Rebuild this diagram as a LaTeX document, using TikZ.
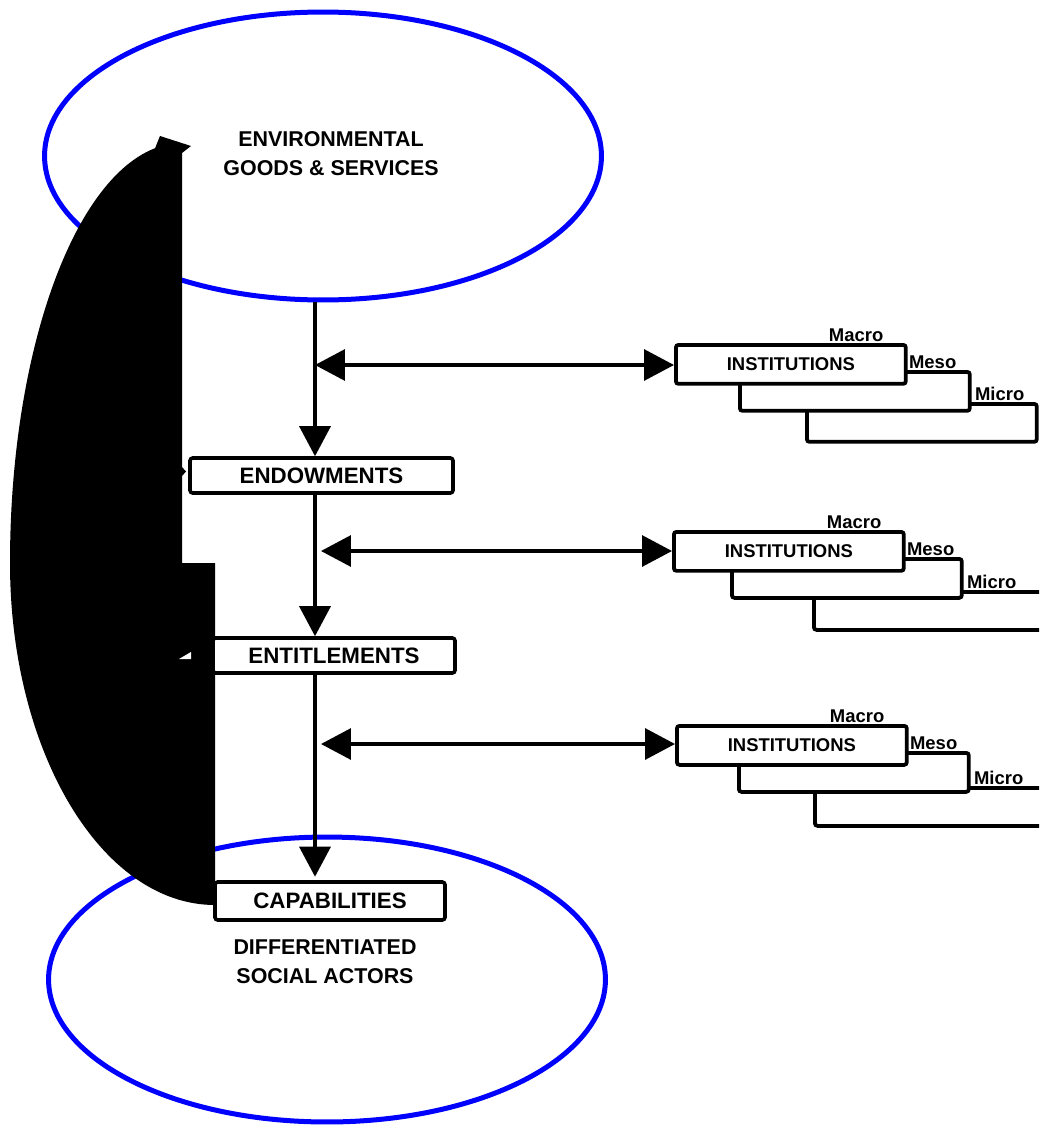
\documentclass[tikz,border=0pt]{standalone}
\usepackage{fontspec}
\setmainfont{Liberation Sans}
\usetikzlibrary{shapes.geometric, arrows.meta, positioning, calc}

\begin{document}
\begin{tikzpicture}[
    x=0.02cm, y=-0.02cm,
    goal/.style={draw=blue, line width=0.1cm, ellipse, inner sep=0pt, minimum width=11.14cm, minimum height=5.76cm, font=\fontsize{12.2}{16.5}\selectfont\bfseries, align=center},
    stage/.style={draw, fill=white, line width=0.072cm, rounded corners=1.5pt, inner sep=0pt, minimum height=0.7cm, font=\fontsize{12.7}{14}\selectfont\bfseries},
    instbox/.style={draw, fill=white, line width=0.075cm, rounded corners=1.5pt, inner sep=0pt, minimum width=4.6cm, minimum height=0.78cm, anchor=north west, font=\fontsize{10.5}{12}\selectfont\bfseries},
    tier/.style={inner sep=0.6pt, font=\fontsize{10.5}{12}\selectfont\bfseries},
    flow/.style={-{Triangle[length=0.6cm, width=0.62cm]}, line width=0.068cm},
    link/.style={{Triangle[length=0.6cm, width=0.62cm]}-{Triangle[length=0.6cm, width=0.62cm]}, line width=0.065cm}
]
\useasboundingbox (0,0) rectangle (1039,1136);
\clip (0,0) rectangle (1039,1136);

% Ellipses
\node[goal] (envir) at (323,156) {};
\node[font=\fontsize{12.2}{16.5}\selectfont\bfseries, align=center] (envirtxt) at (331,154) {ENVIRONMENTAL\\GOODS \& SERVICES};
\node[goal, minimum height=5.7cm] (actors) at (327,979.5) {};
\node[font=\fontsize{12.2}{16.5}\selectfont\bfseries, align=center] (actorstxt) at (325,962) {DIFFERENTIATED\\SOCIAL ACTORS};

% Black feedback shapes
\fill (182,563) -- (10,563) arc[start angle=180, end angle=261, x radius=172, y radius=420]
    -- (160,136) -- (191,146) -- (182,153) -- cycle;
\fill (182,467) -- (186,471.5) -- (182,476) -- cycle;
\fill (10,563) -- (215,563) -- (215,905) arc[start angle=90, end angle=180, x radius=205, y radius=342] -- cycle;
\fill[white] (179,659) -- (191,652) -- (191,659) -- cycle;

% Stages
\node[stage, minimum width=5.26cm] (endow) at (321.5,475.5) {ENDOWMENTS};
\node[stage, minimum width=4.84cm] (entitle) at (334,655.5) {ENTITLEMENTS};
\node[stage, minimum width=4.6cm, minimum height=0.76cm] (capab) at (330,901) {CAPABILITIES};

% Institutions
\foreach \n/\gx/\gy/\bx/\cx/\cy in {1/674/343/64/131/59, 2/672/530/58/140/60, 3/675/724/62/138/62} {
    \node[instbox, minimum height=0.76cm] (instC\n) at (\gx+\cx,\gy+\cy) {};
    \node[instbox] (instB\n) at (\gx+\bx,\gy+27) {};
    \node[instbox] (instA\n) at (\gx,\gy) {INSTITUTIONS};
    \node[tier, anchor=south east] (macro\n) at ([xshift=-0.46cm]instA\n.north east) {Macro};
    \node[tier, anchor=south west] (meso\n) at (instA\n.east |- instB\n.north) {Meso};
    \node[tier, anchor=south west] (micro\n) at ([xshift=0.04cm]instB\n.east |- instC\n.north) {Micro};
}

% Arrows
\coordinate (spine) at (315,0);
\draw[flow] (envir.south -| spine) -- (endow.north -| spine);
\draw[flow] (endow.south -| spine) -- (entitle.north -| spine);
\draw[flow] (entitle.south -| spine) -- ([yshift=0.07cm]capab.north -| spine);
\draw[link] (315,365) -- (instA1.west |- 0,365);
\draw[link] (321,551) -- (instA2.west |- 0,551);
\draw[link] (321,744) -- (instA3.west |- 0,744);

\end{tikzpicture}
\end{document}
